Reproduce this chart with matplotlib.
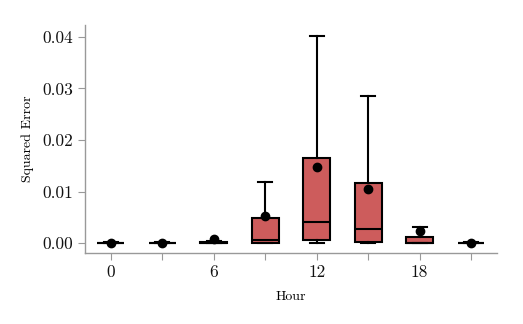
import matplotlib
matplotlib.use('Agg')
import matplotlib.pyplot as plt
import numpy as np

plt.rcParams['font.family'] = 'serif'
plt.rcParams['font.serif'] = ['cmr10', 'DejaVu Serif']
plt.rcParams['axes.formatter.use_mathtext'] = True

# box statistics per hour (squared error)
hours = [0, 3, 6, 9, 12, 15, 18, 21]
tick_labels = ['0', '', '6', '', '12', '', '18', '']
q1 = [0.0, 0.0, 0.0, 0.0, 0.0006, 0.0003, 0.0, 0.0]
med = [0.00003, 0.00003, 0.00005, 0.0006, 0.00414, 0.0027, 0.0001, 0.00003]
q3 = [0.00008, 0.00008, 0.0002, 0.00485, 0.01657, 0.01165, 0.0012, 0.00008]
whislo = [0.0, 0.0, 0.0, 0.0, 0.0, 0.0, 0.0, 0.0]
whishi = [0.0002, 0.0002, 0.0005, 0.0119, 0.0402, 0.0285, 0.0031, 0.0002]
means = [0.0001, 0.0001, 0.0008, 0.0052, 0.0148, 0.0106, 0.0024, 0.0001]

stats = []
for i in range(len(hours)):
    stats.append(dict(q1=q1[i], med=med[i], q3=q3[i], whislo=whislo[i],
                      whishi=whishi[i], mean=means[i], fliers=[]))

fig = plt.figure(figsize=(5.23, 3.24), dpi=100)
ax = fig.add_axes([0.1625, 0.219, 0.7875, 0.704])

pos = np.arange(len(hours))
ax.bxp(stats, positions=pos, widths=0.52, patch_artist=True, showmeans=True,
       showfliers=False,
       boxprops=dict(facecolor='indianred', edgecolor='black', linewidth=1.5),
       medianprops=dict(color='black', linewidth=1.5),
       whiskerprops=dict(color='black', linewidth=1.5),
       capprops=dict(color='black', linewidth=1.5),
       capwidths=0.27,
       meanprops=dict(marker='o', markerfacecolor='black',
                      markeredgecolor='black', markersize=6))

ax.set_xlim(-0.5, 7.5)
ax.set_ylim(-0.0019, 0.0423)
ax.set_xticks(pos)
ax.set_xticklabels(tick_labels)
ax.set_yticks([0, 0.01, 0.02, 0.03, 0.04])
ax.set_yticklabels(['0.00', '0.01', '0.02', '0.03', '0.04'])

for s in ['top', 'right']:
    ax.spines[s].set_visible(False)
for s in ['left', 'bottom']:
    ax.spines[s].set_color('#999999')
    ax.spines[s].set_linewidth(1.0)
ax.tick_params(colors='#999999', labelcolor='#111111', labelsize=12.5, length=5)

ax.set_xlabel('Hour', fontsize=10, labelpad=8)
ax.set_ylabel('Squared Error', fontsize=10, labelpad=6)

fig.savefig('out.png', dpi=100)
